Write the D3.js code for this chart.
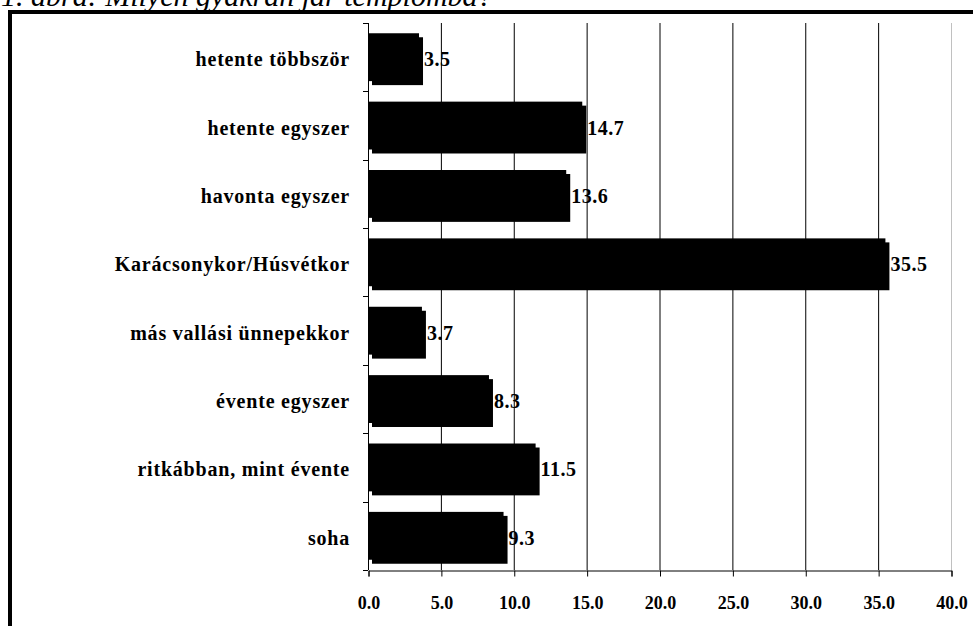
<!DOCTYPE html>
<html><head><meta charset="utf-8">
<script src="https://cdn.jsdelivr.net/npm/d3@7"></script>
<style>body{margin:0;background:#fff}svg{display:block}</style>
</head><body>
<svg id="c" width="973" height="626"></svg>
<script>
const categories = ["hetente többször","hetente egyszer","havonta egyszer","Karácsonykor/Húsvétkor","más vallási ünnepekkor","évente egyszer","ritkábban, mint évente","soha"];
const values = [3.5,14.7,13.6,35.5,3.7,8.3,11.5,9.3];
const ticks = [0,5,10,15,20,25,30,35,40];
const title = "1. ábra: Milyen gyakran jár templomba?";

const svg = d3.select("#c");
const serif = "'Liberation Serif','Times New Roman',serif";
const L = 368, R = 951, T = 23, B = 570;
const x = d3.scaleLinear().domain([0,40]).range([L,R]);
const y = d3.scaleBand().domain(categories).range([T,B]).paddingInner(0.3).paddingOuter(0.15);

// title (cut off at top, as in the source)
svg.append("text").attr("x",1).attr("y",6).attr("font-family",serif).attr("font-style","italic")
  .attr("font-size",30).text(title);

// frame
svg.append("rect").attr("x",8).attr("y",10).attr("width",973).attr("height",4).attr("fill","#000");
svg.append("rect").attr("x",8).attr("y",10).attr("width",4).attr("height",626).attr("fill","#000");

// bars (shadow + front)
const g = svg.append("g");
g.selectAll("rect.sh").data(values).join("rect").attr("class","sh")
  .attr("x",x(0)+4).attr("y",(d,i)=>y(categories[i])+4)
  .attr("width",d=>x(d)-x(0)).attr("height",y.bandwidth()).attr("fill","#000");
g.selectAll("rect.fr").data(values).join("rect").attr("class","fr")
  .attr("x",x(0)).attr("y",(d,i)=>y(categories[i]))
  .attr("width",d=>x(d)-x(0)).attr("height",y.bandwidth()).attr("fill","#000");

// value labels
g.selectAll("text.v").data(values).join("text").attr("class","v")
  .attr("x",d=>x(d)+5).attr("y",(d,i)=>y(categories[i])+y.bandwidth()/2+2)
  .attr("dominant-baseline","central").attr("font-family",serif).attr("font-weight","bold")
  .attr("font-size",20).attr("letter-spacing",0.5).text(d=>d.toFixed(1));

// gridlines (drawn over bars and labels)
svg.append("g").selectAll("line").data(ticks.slice(1)).join("line")
  .attr("x1",d=>x(d)+0.5).attr("x2",d=>x(d)+0.5).attr("y1",T).attr("y2",B)
  .attr("stroke",d=>d===40?"#c0c0c0":"#000").attr("stroke-width",1);

// x axis
const xa = svg.append("g").attr("transform",`translate(0.5,${B+0.5})`)
  .call(d3.axisBottom(x).tickValues(ticks).tickFormat(d3.format(".1f")).tickSizeOuter(0).tickSize(6).tickPadding(20));
xa.select(".domain").attr("stroke","#000");
xa.selectAll("text").attr("font-family",serif).attr("font-weight","bold").attr("font-size",18).attr("fill","#000");

// y axis
const boundaries = categories.map(c=>y(c)-y.step()*y.paddingInner()/2).concat([B]);
svg.append("line").attr("x1",L+0.5).attr("x2",L+0.5).attr("y1",T).attr("y2",B).attr("stroke","#000");
svg.append("g").selectAll("line").data(boundaries).join("line")
  .attr("x1",L-5).attr("x2",L).attr("y1",d=>Math.round(d)+0.5).attr("y2",d=>Math.round(d)+0.5).attr("stroke","#000");

// category labels
svg.append("g").selectAll("text").data(categories).join("text")
  .attr("x",350).attr("y",d=>y(d)+y.bandwidth()/2+2).attr("text-anchor","end")
  .attr("dominant-baseline","central").attr("font-family",serif).attr("font-weight","bold")
  .attr("font-size",20).attr("letter-spacing",0.8).text(d=>d);
</script>
</body></html>
